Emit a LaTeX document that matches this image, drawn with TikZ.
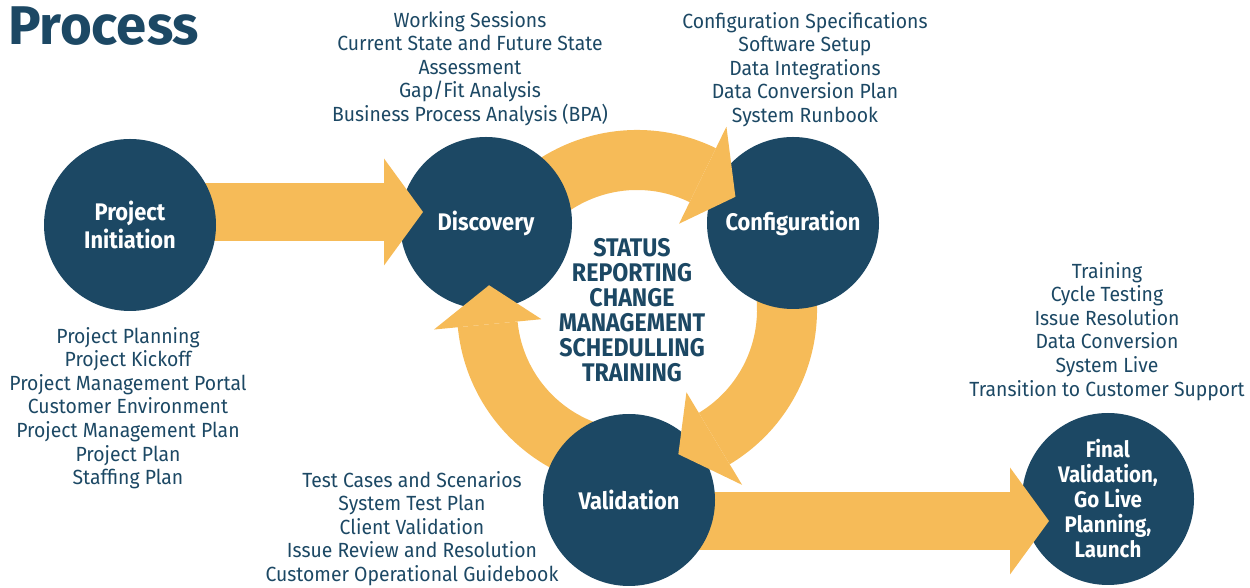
\documentclass[tikz,border=0pt]{standalone}
\usepackage{fontspec}
\setmainfont{Fira Sans}[FakeStretch=0.945]
\newfontfamily\titlefont{Fira Sans}
\newfontfamily\labelfont{Fira Sans}[FakeStretch=0.91]
\usetikzlibrary{
  backgrounds,
  calc,
  positioning,
}
\definecolor{navy}{HTML}{1C4864}
\definecolor{gold}{HTML}{F6BB58}
\tikzset{
  phase/.style={circle,fill=navy,text=white,minimum size=172,inner sep=0,
    align=center,font=\labelfont\bfseries\fontsize{24}{28.4}\selectfont},
  items/.style={text=navy,align=center,inner sep=0,anchor=north,
    font=\fontsize{20.5}{23.6}\selectfont},
  hubtext/.style={text=navy,align=center,inner sep=0,
    font=\labelfont\bfseries\fontsize{25.5}{25}\selectfont},
  flow/.style={fill=gold},
}
% straight block arrow: #1 from node, #2 tip
\newcommand\barrow[2]{
  \begin{scope}[on background layer]
    \fill[flow] let \p1=(#1), \p2=(#2) in (\x1,\y2-29pt) rectangle (\x2-38pt,\y2+29pt);
  \end{scope}
  \fill[flow] let \p2=(#2) in (\x2-39pt,\y2+53.5pt) -- (\x2,\y2) -- (\x2-39pt,\y2-53.5pt) -- cycle;
}
% curved block arrow round (ring): #1 start angle, #2 head base, #3 tip
\newcommand\ringarrow[3]{
  \begin{scope}[on background layer]
    \fill[flow] ([shift={(#1:180pt)}]ring) arc[start angle=#1,end angle=#2,radius=180pt]
      -- ([shift={(#2:120pt)}]ring) arc[start angle=#2,end angle=#1,radius=120pt] -- cycle;
  \end{scope}
  \fill[flow] ([shift={(#2:204pt)}]ring) -- ([shift={(#3:150pt)}]ring) -- ([shift={(#2:96pt)}]ring) -- cycle;
}

\begin{document}
\begin{tikzpicture}[x=1pt,y=1pt,node distance=0mm and 0mm]
  \useasboundingbox (0,0) rectangle (1250,588);

  \node[anchor=north west,inner sep=0,text=navy,font=\titlefont\bfseries\fontsize{54.5}{54.5}\selectfont] (title) at (8,581) {Process};

  % phases
  \node[phase] (init) at (130,363) {Project\\Initiation};
  \node[phase] (disc) at (486,365) {Discovery};
  \node[phase] (conf) at (793,365) {Configuration};
  \node[phase] (vali) at (629,88) {Validation};
  \node[phase,font=\labelfont\bfseries\fontsize{22.5}{25}\selectfont] (fin) at (1108,89) {Final\\Validation,\\Go Live\\Planning,\\Launch};

  \coordinate (ring) at (637,278);
  \node[hubtext] (hub) at ([xshift=-5]ring) {STATUS\\REPORTING\\CHANGE\\MANAGEMENT\\SCHEDULLING\\TRAINING};

  % deliverables
  \node[items] (initlist) at (128,261) {Project Planning\\Project Kickoff\\Project Management Portal\\Customer Environment\\Project Management Plan\\Project Plan\\Staffing Plan};
  \node[items] (disclist) at (470,577) {Working Sessions\\Current State and Future State\\Assessment\\Gap/Fit Analysis\\Business Process Analysis (BPA)};
  \node[items] (conflist) at (805,576) {Configuration Specifications\\Software Setup\\Data Integrations\\Data Conversion Plan\\System Runbook};
  \node[items] (valilist) at (412,117) {Test Cases and Scenarios\\System Test Plan\\Client Validation\\Issue Review and Resolution\\Customer Operational Guidebook};
  \node[items] (finlist) at (1107,326) {Training\\Cycle Testing\\Issue Resolution\\Data Conversion\\System Live\\Transition to Customer Support};

  % arrows
  \coordinate (tip1) at (423,376);
  \coordinate (tip2) at (1049,67);
  \barrow{init}{tip1}
  \barrow{vali}{tip2}

  \ringarrow{150}{64}{49}
  \ringarrow{30}{-59}{-74}
  \ringarrow{-95}{-174.5}{-189.5}

\end{tikzpicture}
\end{document}
